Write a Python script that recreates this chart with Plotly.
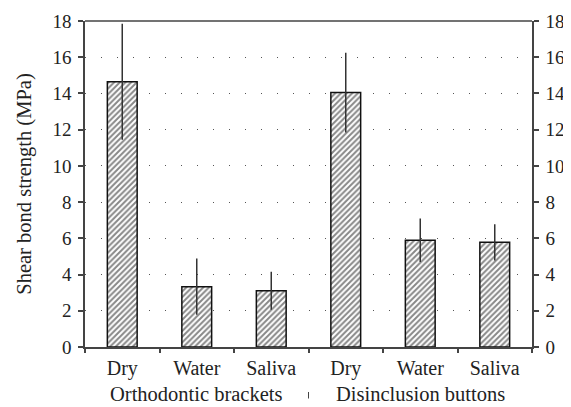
import plotly.graph_objects as go

categories = ["Dry", "Water", "Saliva", "Dry", "Water", "Saliva"]
groups = ["Orthodontic brackets", "Disinclusion buttons"]
means = [14.65, 3.33, 3.11, 14.05, 5.9, 5.78]
sds = [3.2, 1.55, 1.05, 2.2, 1.2, 1.0]
yticks = [0, 2, 4, 6, 8, 10, 12, 14, 16, 18]

xpos = list(range(len(categories)))
font = dict(family="Liberation Serif, Times New Roman, serif", size=19, color="#222")

fig = go.Figure()
fig.add_trace(go.Bar(
    x=xpos, y=means, width=0.4,
    marker=dict(color="white", line=dict(color="#111", width=1.5),
                pattern=dict(shape="/", fgcolor="#111", bgcolor="white", size=4, solidity=0.5)),
    error_y=dict(type="data", array=sds, visible=True, color="#333", thickness=1.5, width=0),
    showlegend=False,
))
fig.add_trace(go.Scatter(x=[xpos[0]], y=[0], yaxis="y2", mode="markers",
                         marker=dict(opacity=0), showlegend=False, hoverinfo="skip"))
fig.add_trace(go.Scatter(x=[xpos[0]], y=[0], xaxis="x2", mode="markers",
                         marker=dict(opacity=0), showlegend=False, hoverinfo="skip"))

xr = [-0.5, len(categories) - 0.5]
# page body has an 8px default margin, so the figure is offset by 8px
fig.update_layout(
    width=563, height=399,
    margin=dict(l=77, r=39, t=13, b=60),
    plot_bgcolor="white", paper_bgcolor="white",
    font=font,
    xaxis=dict(range=xr, tickvals=xpos, ticktext=categories, ticks="", showline=True,
               linecolor="#444", linewidth=1.5, showgrid=False, zeroline=False,
               ticklabelstandoff=2, automargin=False, tickfont=dict(size=20)),
    xaxis2=dict(range=xr, overlaying="x", side="bottom", tickvals=[i - 0.5 for i in range(len(categories) + 1)],
                showticklabels=False, ticks="outside", ticklen=5, tickcolor="#444", tickwidth=1.5,
                showgrid=False, zeroline=False, showline=False, automargin=False),
    yaxis=dict(range=[0, 18], tickvals=yticks, ticks="outside", ticklen=5, tickcolor="#444", tickwidth=1.5,
               showline=True, linecolor="#444", linewidth=1.5, automargin=False,
               showgrid=True, gridcolor="#555", gridwidth=1, griddash="1px,15px", zeroline=False,
               ticklabelstandoff=3,
               title=dict(text="Shear bond strength (MPa)", font=dict(size=20.5), standoff=15)),
    yaxis2=dict(range=[0, 18], tickvals=yticks, overlaying="y", side="right", ticks="outside", ticklen=5,
                tickcolor="#444", tickwidth=1.5, showline=True, linecolor="#444", linewidth=1.5,
                showgrid=False, zeroline=False, automargin=False, ticklabelstandoff=3),
    shapes=[
        dict(type="line", xref="paper", yref="paper", x0=0, x1=1, y0=1, y1=1,
             line=dict(color="#444", width=1.5)),
        dict(type="line", xref="x", yref="paper", x0=2.5, x1=2.5, y0=-0.138, y1=-0.158,
             line=dict(color="#444", width=1)),
    ],
    annotations=[
        dict(text=groups[0], x=1, xref="x", y=0, yref="paper", yshift=-47, showarrow=False,
             yanchor="middle", font=dict(size=20.5)),
        dict(text=groups[1], x=4, xref="x", y=0, yref="paper", yshift=-47, showarrow=False,
             yanchor="middle", font=dict(size=20.5)),
    ],
)
fig.write_html("out.html")
